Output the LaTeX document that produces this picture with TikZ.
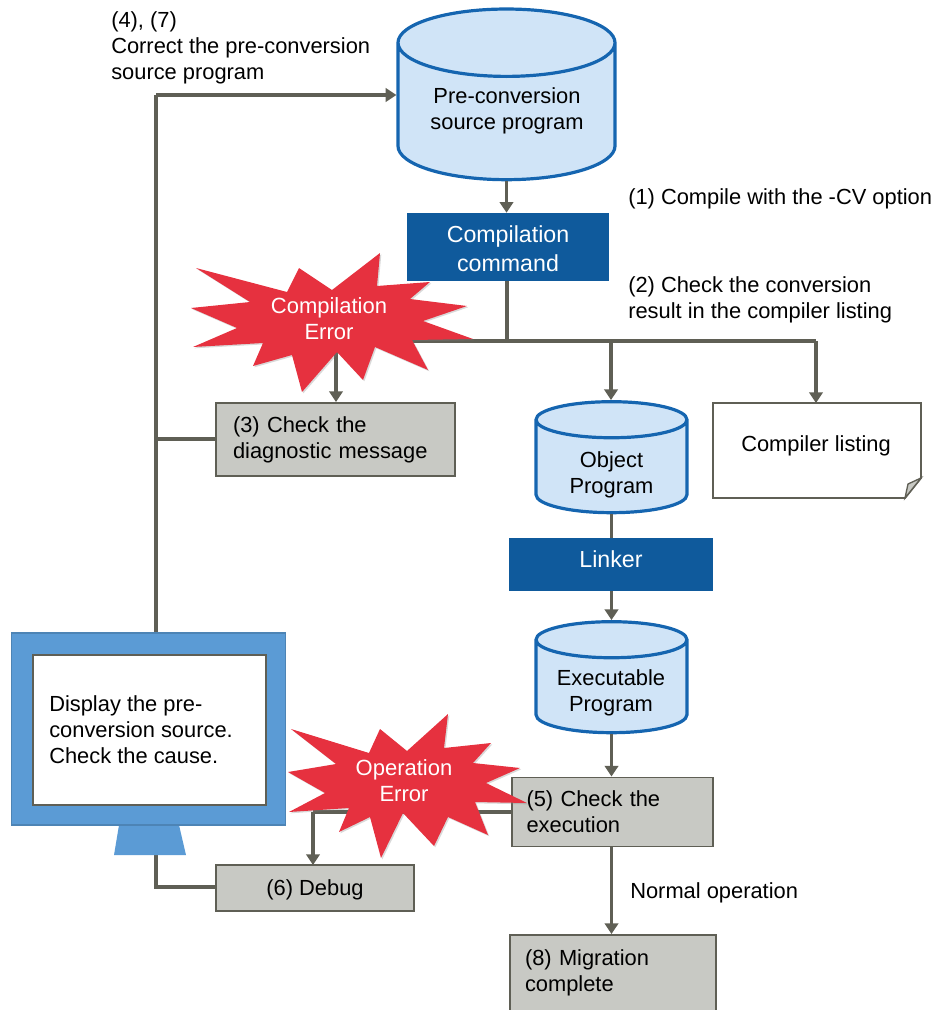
\documentclass[tikz,border=0pt]{standalone}
\usepackage{fontspec}
\setmainfont{Liberation Sans}
\usetikzlibrary{arrows.meta,shapes.geometric,shadows}
\definecolor{linecol}{HTML}{5F5F55}
\definecolor{darkblue}{HTML}{0F5A9C}
\definecolor{cylfill}{HTML}{D0E4F7}
\definecolor{cylline}{HTML}{1565B0}
\definecolor{boxfill}{HTML}{C8C9C4}
\definecolor{starred}{HTML}{E6313F}
\definecolor{monblue}{HTML}{5B9BD5}
\tikzset{
    txt/.style={font=\fontsize{16.4}{19.5}\selectfont,align=left,anchor=west,inner sep=0pt},
    wire/.style={draw=linecol,line width=2.8pt},
    arr/.style={wire,-{Triangle[length=8pt,width=10pt]}},
    cyltxt/.style={font=\fontsize{16.4}{19.5}\selectfont,align=center,inner sep=0pt},
    cyl/.style={cyltxt,cylinder,shape border rotate=90,draw=cylline,line width=2.4pt,fill=cylfill},
    cmdbox/.style={draw=none,fill=darkblue,text=white,align=center,inner sep=0pt},
    greybox/.style={draw=linecol,line width=1.4pt,fill=boxfill,align=left,inner sep=0pt,
        font=\fontsize{16.4}{19.5}\selectfont},
    startxt/.style={text=white,align=center,inner sep=0pt,font=\fontsize{16.5}{19.5}\selectfont},
    starshape/.style={fill=starred,draw=none,drop shadow={opacity=.3,shadow xshift=1pt,shadow yshift=-1pt}}
}
\begin{document}
\begin{tikzpicture}[x=.75pt,y=-.75pt]
    \useasboundingbox (0,0) rectangle (937,1010);

    \node[cyl,minimum width=162.75pt,minimum height=128pt,aspect=.44] (source) at (506.5,112) {\phantom{Pre-conversion}\\\phantom{source program}};
    \node[cyltxt] (sourcetext) at (507,111) {Pre-conversion\\source program};
    \node[cmdbox,minimum width=151.5pt,minimum height=51pt,font=\fontsize{17.4}{21.7}\selectfont] (command) at (508,247) {\rule{0pt}{15.5pt}Compilation\\command};
    \node[cyl,minimum width=113.25pt,minimum height=83.25pt,aspect=.43] (object) at (611.5,467) {\phantom{Program}\\\phantom{Program}};
    \node[cyltxt] (objecttext) at (611.5,475) {Object\\Program};
    \node[cmdbox,minimum width=153pt,minimum height=39.75pt,font=\fontsize{17.4}{21.7}\selectfont,text depth=7.5pt] (linker) at (611,564.5) {Linker};
    \node[cyl,minimum width=113.25pt,minimum height=83.25pt,aspect=.43] (exec) at (611.5,687) {\phantom{Program}\\\phantom{Program}};
    \node[cyltxt] (exectext) at (611,693) {Executable\\Program};
    \node[greybox,minimum width=179.25pt,minimum height=54.75pt,text width=153.75pt] (message) at (335.5,439.5) {(3) Check the\\diagnostic message};
    \node[greybox,minimum width=150.75pt,minimum height=51.75pt,text width=129pt] (check) at (612.5,812) {(5) Check the\\execution};
    \node[greybox,minimum width=148.5pt,minimum height=34.5pt,align=center,text height=15pt] (debug) at (315,888) {(6) Debug};
    \node[greybox,minimum width=154.5pt,minimum height=57pt,text width=132pt] (done) at (613,973) {(8) Migration\\complete};

    \coordinate (leftcorner) at (156,95);
    \coordinate (monitortop) at (156,633);
    \coordinate (monitorfoot) at (156,855);
    \coordinate (footcorner) at (156,887);
    \coordinate (leftjoin) at (156,439);
    \coordinate (busjoin) at (507,341);
    \coordinate (busleft) at (412,341);
    \coordinate (busobject) at (611,341);
    \coordinate (buslist) at (816,341);
    \coordinate (listtop) at (816,403);
    \coordinate (starone) at (336,352);
    \coordinate (runjoin) at (313,812);
    \coordinate (debugtop) at (313,865);

    \draw[wire] (monitortop) -- (leftcorner);
    \draw[arr] (leftcorner) -- (source.west |- leftcorner);
    \draw[wire] (message.west |- leftjoin) -- (leftjoin);
    \draw[wire] (monitorfoot) -- (footcorner) -- (debug.west |- footcorner);
    \draw[arr] (source.south) -- (command.north -| source.south);
    \draw[wire] (command.south -| busjoin) -- (busjoin);
    \draw[wire] (busleft) -- (buslist);
    \draw[arr] (busobject) -- (object.north -| busobject);
    \draw[arr] (buslist) -- (listtop);
    \draw[arr] (starone) -- (message.north -| starone);
    \draw[wire] (object.south) -- (linker.north -| object.south);
    \draw[arr] (linker.south -| exec.north) -- (exec.north);
    \draw[arr] (exec.south) -- (check.north -| exec.south);
    \draw[arr] (check.south -| exec.south) -- (done.north -| exec.south);
    \draw[wire] (check.west |- runjoin) -- (runjoin);
    \draw[arr] (runjoin) -- (debugtop);

    \fill[starshape] (380,253) -- (377,286) -- (430,282) -- (410,299) -- (467,306) -- (423,321) -- (473,339) -- (412,340) -- (428,370) -- (375,347) -- (363,380) -- (337,352) -- (302,392) -- (292,355) -- (253,366) -- (263,343) -- (193,347) -- (237,328) -- (191,308) -- (250,302) -- (196,268) -- (287,292) -- (299,268) -- (332,290) -- cycle;
    \node[startxt] (compileerror) at (329,319) {Compilation\\Error};

    \fill[starshape] (448,714) -- (444,748) -- (491,743) -- (473,763) -- (520,768) -- (486,783) -- (527,803) -- (475,802) -- (488,835) -- (448,817) -- (434,846) -- (403,813) -- (381,858) -- (370,817) -- (339,832) -- (349,808) -- (289,812) -- (325,793) -- (288,772) -- (336,764) -- (291,729) -- (369,753) -- (380,729) -- (407,751) -- cycle;
    \node[startxt] (runerror) at (404,781) {Operation\\Error};

    \draw[draw=linecol,line width=1.4pt,fill=white] (713,403) -- (921,403) -- (921,478) -- (905,498) -- (713,498) -- cycle;
    \filldraw[draw=linecol,line width=1pt,fill=boxfill] (905,498) -- (908,484) -- (921,478) -- cycle;
    \node[txt] (listingtext) at (741,446) {Compiler listing};

    \fill[monblue] (119,825) -- (179,825) -- (186,855) -- (114,855) -- cycle;
    \node[draw=monblue!85!black,line width=.8pt,fill=monblue,minimum width=206pt,minimum height=144pt,inner sep=0pt] (monitor) at (148.5,729) {};
    \node[draw=linecol,line width=1.4pt,fill=white,minimum width=175pt,minimum height=112.5pt,inner sep=0pt] (screen) at (149.5,730) {};
    \node[txt] (screentext) at (49,730) {Display the pre-\\conversion source.\\Check the cause.};

    \node[txt] (stepfour) at (111,48) {(4), (7)\\Correct the pre-conversion\\source program};
    \node[txt] (stepone) at (628,199) {(1) Compile with the -CV option};
    \node[txt] (steptwo) at (628,300) {(2) Check the conversion\\result in the compiler listing};
    \node[txt] (normal) at (630,893) {Normal operation};
\end{tikzpicture}
\end{document}
